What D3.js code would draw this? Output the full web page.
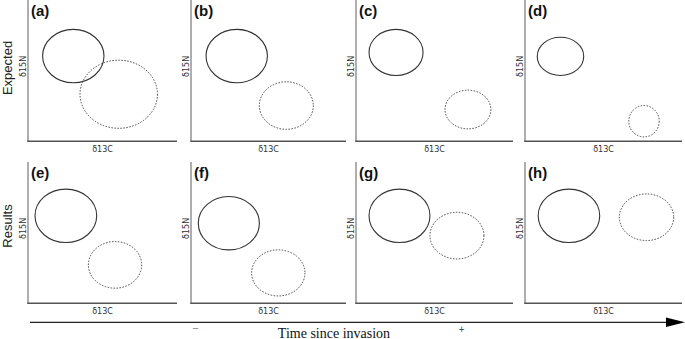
<!DOCTYPE html>
<html><head><meta charset="utf-8">
<script src="https://cdn.jsdelivr.net/npm/d3@7"></script>
<style>body{margin:0;background:#fff}svg{display:block}</style>
</head><body>
<svg id="c" width="685" height="339"></svg>
<script>
// Panel labels and row labels
const panels = ["(a)","(b)","(c)","(d)","(e)","(f)","(g)","(h)"];
const rowLabels = ["Expected","Results"];
// Native niche ellipse (solid): centre δ13C, centre δ15N, radius δ13C, radius δ15N (0–10 units)
const nativeCx = [3.04, 2.95, 2.55, 2.26, 2.54, 2.44, 2.77, 2.80];
const nativeCy = [6.03, 6.03, 6.29, 6.01, 6.19, 5.67, 6.19, 6.19];
const nativeRx = [2.06, 1.98, 1.72, 1.48, 2.07, 1.97, 1.94, 1.96];
const nativeRy = [1.89, 1.89, 1.63, 1.35, 1.89, 1.89, 1.89, 1.89];
// Invasive niche ellipse (dotted)
const invCx = [6.09, 6.15, 7.13, 7.58, 5.84, 5.63, 6.43, 7.74];
const invCy = [3.33, 2.53, 2.25, 1.42, 2.72, 2.15, 4.79, 6.09];
const invRx = [2.60, 1.74, 1.46, 0.97, 1.79, 1.72, 1.72, 1.73];
const invRy = [2.41, 1.68, 1.37, 1.11, 1.65, 1.63, 1.65, 1.65];
const xLabel = "δ13C", yLabel = "δ15N";
const timeLabel = "Time since invasion", timeMin = "−", timeMax = "+";

const svg = d3.select("#c");
const colX = [{x0:28,w:149},{x0:191,w:155},{x0:356,w:157},{x0:525,w:157}];
const rowY = [{y0:0,h:141.3},{y0:162,h:141.3}];

panels.forEach((lab,i)=>{
  const r = Math.floor(i/4), c = i%4;
  const {x0,w} = colX[c], {y0,h} = rowY[r];
  const g = svg.append("g").attr("transform",`translate(${x0},${y0})`);
  const x = d3.scaleLinear().domain([0,10]).range([0,w]);
  const y = d3.scaleLinear().domain([0,10]).range([h,0]);
  // axes
  g.append("line").attr("x1",0).attr("x2",0).attr("y1",0).attr("y2",h)
    .attr("stroke","#9a9a9a").attr("stroke-width",1.6);
  g.append("line").attr("x1",-0.8).attr("x2",w).attr("y1",h).attr("y2",h)
    .attr("stroke","#555").attr("stroke-width",1.4);
  // ellipses
  g.append("ellipse").attr("cx",x(nativeCx[i])).attr("cy",y(nativeCy[i]))
    .attr("rx",x(nativeRx[i])-x(0)).attr("ry",y(0)-y(nativeRy[i]))
    .attr("fill","none").attr("stroke","#333").attr("stroke-width",1.1);
  g.append("ellipse").attr("cx",x(invCx[i])).attr("cy",y(invCy[i]))
    .attr("rx",x(invRx[i])-x(0)).attr("ry",y(0)-y(invRy[i]))
    .attr("fill","none").attr("stroke","#444").attr("stroke-width",1)
    .attr("stroke-dasharray","1.5,1.5");
  // labels
  g.append("text").attr("x",3).attr("y",16).text(lab)
    .attr("font-family","Liberation Sans, Arial, sans-serif").attr("font-weight","bold")
    .attr("font-size",15).attr("fill","#111");
  g.append("text").attr("x",x(5)).attr("y",h+11).attr("text-anchor","middle").text(xLabel)
    .attr("font-family","DejaVu Sans, sans-serif").attr("font-size",8).attr("fill","#333");
  g.append("text").attr("transform",`translate(-2.5,${h*0.47}) rotate(-90)`)
    .attr("text-anchor","middle").text(yLabel)
    .attr("font-family","DejaVu Sans, sans-serif").attr("font-size",8).attr("fill","#333");
});

// row labels
rowLabels.forEach((t,r)=>{
  svg.append("text").attr("transform",`translate(12,${r===0?68:226}) rotate(-90)`)
    .attr("text-anchor","middle").text(t)
    .attr("font-family","Liberation Sans, Arial, sans-serif").attr("font-size",13).attr("fill","#222");
});

// time axis
svg.append("line").attr("x1",30).attr("x2",668).attr("y1",322.3).attr("y2",322.3)
  .attr("stroke","#222").attr("stroke-width",1.3);
svg.append("path").attr("d","M666,317.6 L685,322.3 L666,327 Z").attr("fill","#000");
svg.append("text").attr("x",334).attr("y",337.5).attr("text-anchor","middle").text(timeLabel)
  .attr("font-family","Liberation Serif, Times New Roman, serif").attr("font-size",14).attr("fill","#111");
svg.append("text").attr("x",195.5).attr("y",332).attr("text-anchor","middle").text(timeMin)
  .attr("font-family","Liberation Sans, sans-serif").attr("font-size",11).attr("fill","#888");
svg.append("text").attr("x",461.5).attr("y",332).attr("text-anchor","middle").text(timeMax)
  .attr("font-family","DejaVu Sans, sans-serif").attr("font-size",8).attr("fill","#333");
</script>
</body></html>
